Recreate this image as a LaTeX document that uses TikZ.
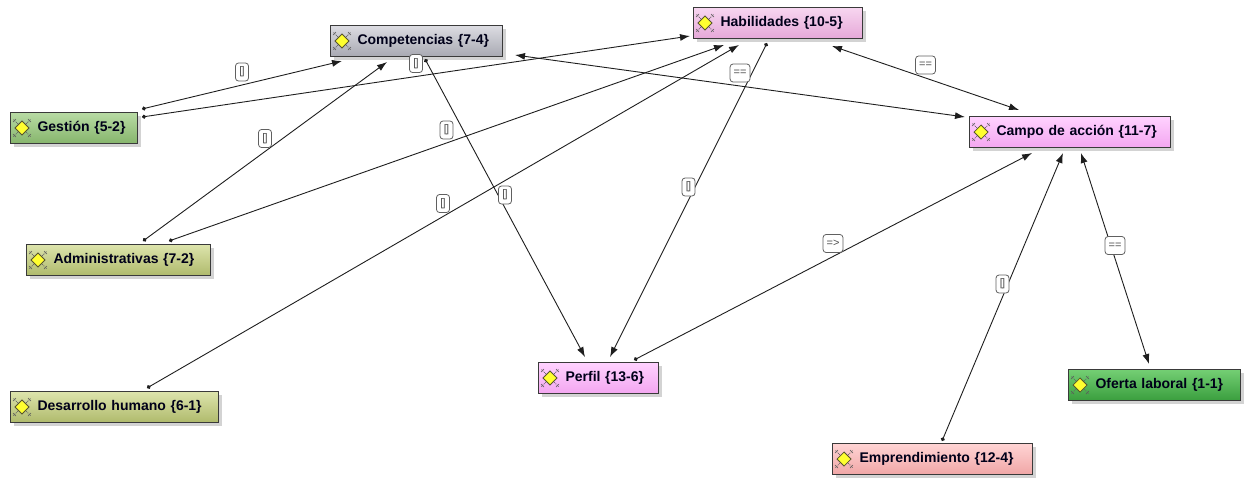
\documentclass[tikz,border=0pt]{standalone}
\usepackage{fontspec}
\setmainfont{Liberation Sans}
\usetikzlibrary{arrows.meta,shadows,calc}
\definecolor{edgec}{HTML}{1E1E1E}
\definecolor{boxline}{HTML}{3A3A3A}
\definecolor{lblline}{HTML}{606060}
\definecolor{lbltext}{HTML}{505050}
\definecolor{grayT}{HTML}{DCDCE2}\definecolor{grayB}{HTML}{A8A9B2}
\definecolor{habT}{HTML}{F7D6F0}\definecolor{habB}{HTML}{E6A8D8}
\definecolor{pinkT}{HTML}{FFD2FF}\definecolor{pinkB}{HTML}{F3A6F0}
\definecolor{gestT}{HTML}{B8DBA4}\definecolor{gestB}{HTML}{86B56C}
\definecolor{oliveT}{HTML}{DDE4AC}\definecolor{oliveB}{HTML}{AFBA6C}
\definecolor{ofT}{HTML}{74CF74}\definecolor{ofB}{HTML}{3A9E3E}
\definecolor{emT}{HTML}{FFD4D4}\definecolor{emB}{HTML}{F0A6A6}
\definecolor{iconY}{HTML}{FFFF30}
\newcommand\cicon[1]{%
  \begin{scope}[shift={([xshift=12pt]#1.west)},x=1pt,y=1pt]
    \draw[gray!80!black,densely dotted,line width=0.8pt] (-8.5,-8.5) -- (8.5,8.5) (-8.5,8.5) -- (8.5,-8.5);
    \draw[gray!70!black,line width=0.6pt] (-9,-6) -- (-6,-9) (9,6) -- (6,9) (-9,6) -- (-6,9) (9,-6) -- (6,-9);
    \draw[fill=iconY,draw=olive!50!black,line width=0.8pt] (0,7) -- (7,0) -- (0,-7) -- (-7,0) -- cycle;
  \end{scope}}
\tikzset{
  codebox/.style={draw=boxline,line width=1.1pt,minimum height=31pt,inner xsep=0pt,inner ysep=0pt,
    anchor=north west,align=left,text=black!90!blue,
    font=\fontsize{14}{16}\selectfont\bfseries,
    drop shadow={opacity=0.35,shadow xshift=3pt,shadow yshift=-3pt}},
  conn/.style={draw=edgec,line width=0.9pt},
  dotarrow/.style={conn,arrows={Circle[length=4pt]-Latex[length=10pt,width=7pt]}},
  twoarrow/.style={conn,arrows={Latex[length=10pt,width=7pt]-Latex[length=10pt,width=7pt]}},
  lbl/.style={draw=lblline,fill=white,rounded corners=3pt,line width=0.8pt,inner xsep=3.5pt,inner ysep=1pt,
    minimum height=18pt,minimum width=13pt,text=lbltext,font=\fontsize{11}{11}\selectfont,midway,yshift=13pt}
}
\begin{document}
\begin{tikzpicture}[x=1pt,y=-1pt]
\useasboundingbox (0,0) rectangle (1247,477);
% nodes
\node[codebox,top color=grayT,bottom color=grayB,text width=172pt] (comp) at (330,25) {\hspace*{27pt}Competencias \{7-4\}};
\node[codebox,top color=habT,bottom color=habB,text width=169pt] (hab) at (693,7) {\hspace*{27pt}Habilidades \{10-5\}};
\node[codebox,top color=gestT,bottom color=gestB,text width=127pt] (gest) at (10,112) {\hspace*{27pt}Gestión \{5-2\}};
\node[codebox,top color=pinkT,bottom color=pinkB,text width=201pt] (campo) at (969,116) {\hspace*{27pt}Campo de acción \{11-7\}};
\node[codebox,top color=oliveT,bottom color=oliveB,text width=184pt] (admin) at (26,244) {\hspace*{27pt}Administrativas \{7-2\}};
\node[codebox,top color=oliveT,bottom color=oliveB,text width=208pt] (desa) at (10,391) {\hspace*{27pt}Desarrollo humano \{6-1\}};
\node[codebox,top color=pinkT,bottom color=pinkB,text width=120pt] (perf) at (538,362) {\hspace*{27pt}Perfil \{13-6\}};
\node[codebox,top color=ofT,bottom color=ofB,text width=172pt] (ofer) at (1068,369) {\hspace*{27pt}Oferta laboral \{1-1\}};
\node[codebox,top color=emT,bottom color=emB,text width=200pt] (empr) at (832,443) {\hspace*{27pt}Emprendimiento \{12-4\}};
\foreach \n in {comp,hab,gest,campo,admin,desa,perf,ofer,empr} {\cicon{\n}}
% connectors
\draw[dotarrow] ([xshift=132pt,yshift=3pt]gest.north west) -- node[lbl]{[\kern-0.8pt]} ([xshift=12pt,yshift=-36pt]comp.north west);
\draw[dotarrow] ([xshift=132pt,yshift=-5pt]gest.north west) -- node[lbl]{[\kern-0.8pt]} ([xshift=-3pt,yshift=-29pt]hab.north west);
\draw[dotarrow] ([xshift=117pt,yshift=3pt]admin.north west) -- node[lbl]{[\kern-0.8pt]} ([xshift=57pt,yshift=-37pt]comp.north west);
\draw[dotarrow] ([xshift=143pt,yshift=3pt]admin.north west) -- node[lbl]{[\kern-0.8pt]} ([xshift=31pt,yshift=-38pt]hab.north west);
\draw[dotarrow] ([xshift=137pt,yshift=3pt]desa.north west) -- node[lbl]{[\kern-0.8pt]} ([xshift=46pt,yshift=-38pt]hab.north west);
\draw[dotarrow] ([xshift=95pt,yshift=-34pt]comp.north west) -- node[lbl]{[\kern-0.8pt]} ([xshift=47pt,yshift=5pt]perf.north west);
\draw[dotarrow] ([xshift=74pt,yshift=-36pt]hab.north west) -- node[lbl]{[\kern-0.8pt]} ([xshift=72pt,yshift=5pt]perf.north west);
\draw[dotarrow] ([xshift=96pt,yshift=2pt]perf.north west) -- node[lbl]{=>} ([xshift=63pt,yshift=-37pt]campo.north west);
\draw[twoarrow] ([xshift=185pt,yshift=-30pt]comp.north west) -- node[lbl]{==} ([xshift=-4pt,yshift=-1pt]campo.north west);
\draw[twoarrow] ([xshift=139pt,yshift=-39pt]hab.north west) -- node[lbl]{==} ([xshift=50pt,yshift=6pt]campo.north west);
\draw[dotarrow] ([xshift=110pt,yshift=2pt]empr.north west) -- node[lbl]{[\kern-0.8pt]} ([xshift=94pt,yshift=-37pt]campo.north west);
\draw[twoarrow] ([xshift=81pt,yshift=5pt]ofer.north west) -- node[lbl]{==} ([xshift=112pt,yshift=-37pt]campo.north west);
\end{tikzpicture}
\end{document}
